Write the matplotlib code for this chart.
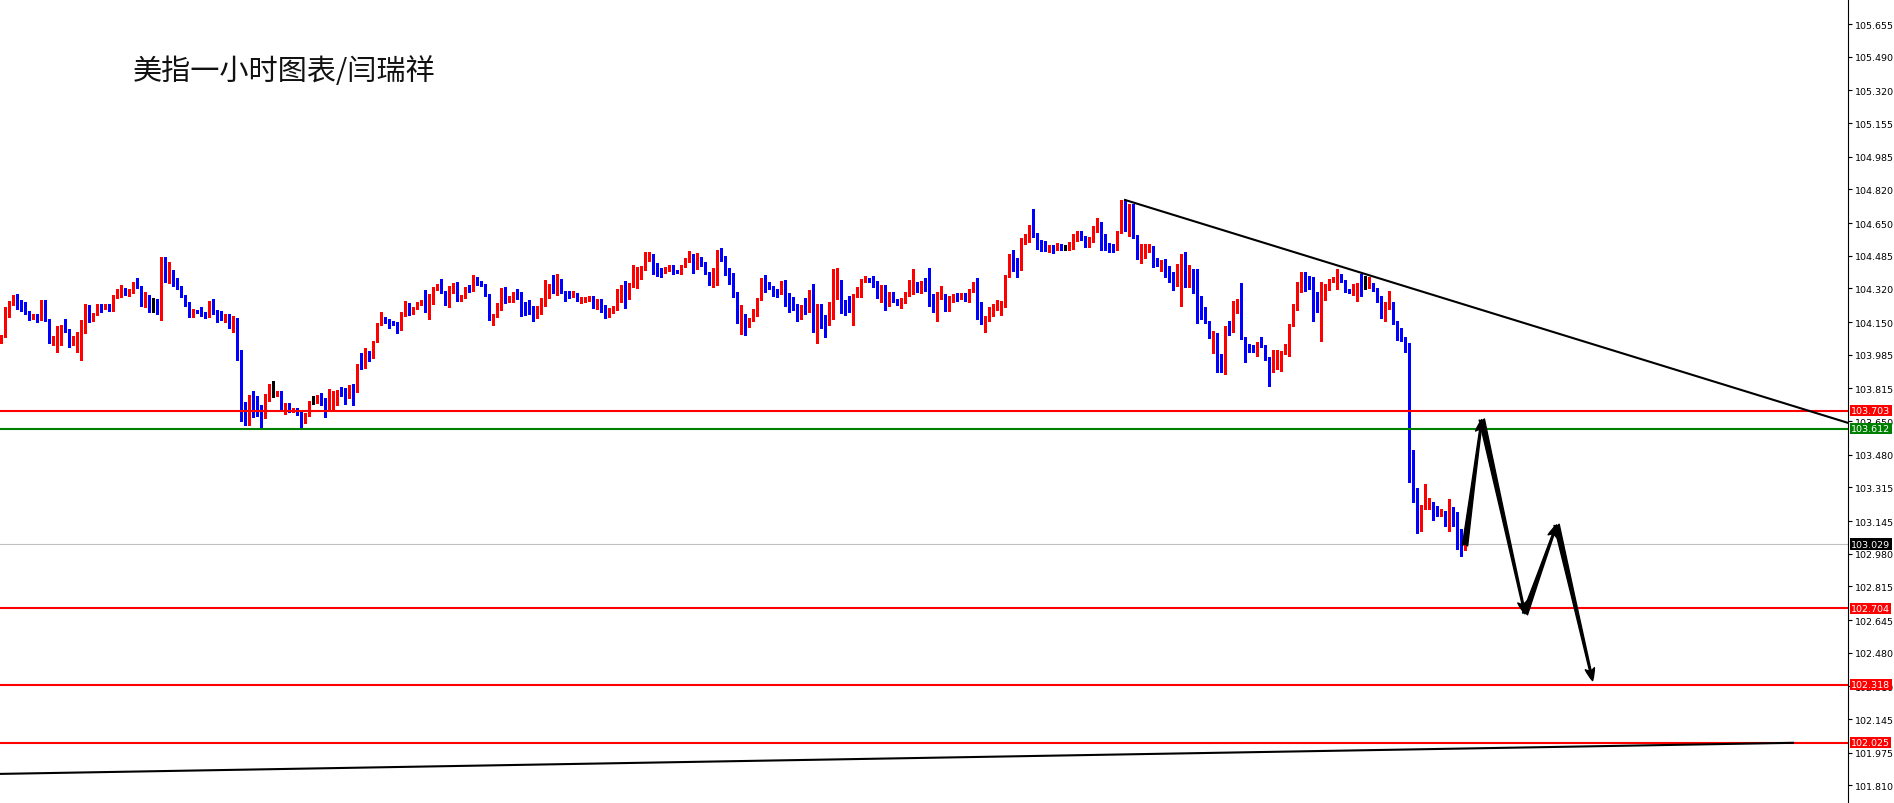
import numpy as np
import matplotlib
matplotlib.use("Agg")
import matplotlib.pyplot as plt

# USD index, 1-hour candles (open/high/low/close)
opens = [
    104.052, 104.077, 104.183, 104.251, 104.267, 104.237, 104.217, 104.203, 104.170, 104.183,
    104.170, 104.227, 104.163, 104.045, 104.052, 104.077, 104.129, 104.111, 104.042, 104.040,
    104.077, 104.097, 104.217, 104.158, 104.192, 104.237, 104.222, 104.234, 104.208, 104.279,
    104.284, 104.318, 104.296, 104.301, 104.338, 104.330, 104.246, 104.251, 104.251, 104.247,
    104.203, 104.419, 104.365, 104.409, 104.355, 104.325, 104.288, 104.246, 104.192, 104.210,
    104.212, 104.188, 104.183, 104.237, 104.203, 104.183, 104.158, 104.183, 104.133, 104.166,
    104.006, 103.678, 103.653, 103.779, 103.734, 103.703, 103.666, 103.779, 103.784, 103.784,
    103.796, 103.717, 103.729, 103.700, 103.710, 103.703, 103.645, 103.678, 103.746, 103.751,
    103.779, 103.762, 103.703, 103.754, 103.766, 103.804, 103.796, 103.767, 103.830, 103.813,
    103.936, 103.922, 103.985, 103.973, 104.052, 104.141, 104.166, 104.158, 104.153, 104.146,
    104.112, 104.183, 104.242, 104.197, 104.222, 104.242, 104.262, 104.242, 104.242, 104.315,
    104.335, 104.304, 104.230, 104.301, 104.335, 104.259, 104.276, 104.318, 104.315, 104.360,
    104.360, 104.339, 104.292, 104.163, 104.186, 104.220, 104.314, 104.262, 104.264, 104.297,
    104.287, 104.247, 104.237, 104.228, 104.186, 104.208, 104.253, 104.312, 104.326, 104.301,
    104.363, 104.304, 104.287, 104.279, 104.292, 104.259, 104.259, 104.267, 104.272, 104.247,
    104.259, 104.230, 104.183, 104.200, 104.216, 104.280, 104.292, 104.267, 104.339, 104.385,
    104.413, 104.418, 104.461, 104.494, 104.427, 104.418, 104.405, 104.413, 104.435, 104.413,
    104.397, 104.432, 104.456, 104.489, 104.422, 104.472, 104.447, 104.397, 104.348, 104.405,
    104.494, 104.472, 104.405, 104.373, 104.292, 104.163, 104.174, 104.149, 104.161, 104.183,
    104.262, 104.363, 104.351, 104.314, 104.309, 104.297, 104.355, 104.280, 104.267, 104.238,
    104.166, 104.228, 104.205, 104.309, 104.132, 104.233, 104.152, 104.144, 104.242, 104.270,
    104.338, 104.245, 104.237, 104.220, 104.280, 104.323, 104.360, 104.373, 104.365, 104.355,
    104.297, 104.312, 104.237, 104.297, 104.257, 104.245, 104.250, 104.284, 104.317, 104.343,
    104.317, 104.338, 104.317, 104.287, 104.208, 104.272, 104.287, 104.216, 104.253, 104.280,
    104.272, 104.292, 104.279, 104.309, 104.348, 104.203, 104.174, 104.179, 104.200, 104.220,
    104.225, 104.225, 104.381, 104.489, 104.422, 104.415, 104.567, 104.573, 104.624, 104.590,
    104.560, 104.540, 104.511, 104.536, 104.519, 104.543, 104.528, 104.523, 104.541, 104.570,
    104.583, 104.578, 104.540, 104.557, 104.612, 104.646, 104.562, 104.536, 104.533, 104.519,
    104.604, 104.764, 104.629, 104.705, 104.587, 104.499, 104.511, 104.514, 104.531, 104.452,
    104.440, 104.461, 104.427, 104.373, 104.360, 104.368, 104.464, 104.329, 104.376, 104.306,
    104.237, 104.220, 104.152, 104.090, 104.095, 103.984, 103.930, 104.127, 104.107, 104.203,
    104.191, 104.070, 104.031, 104.031, 104.001, 104.048, 104.031, 103.967, 103.939, 103.994,
    103.947, 103.994, 104.001, 104.132, 104.216, 104.309, 104.398, 104.338, 104.334, 104.297,
    104.205, 104.270, 104.331, 104.355, 104.321, 104.390, 104.360, 104.314, 104.309, 104.331,
    104.338, 104.334, 104.326, 104.343, 104.317, 104.259, 104.174, 104.221, 104.247, 104.149,
    104.090, 104.068, 104.031, 103.422, 103.248, 103.127, 103.218, 103.223, 103.237, 103.183,
    103.176, 103.195, 103.119, 103.215, 103.126, 103.075, 103.009,
]
highs = [
    104.086, 104.225, 104.259, 104.289, 104.293, 104.262, 104.254, 104.208, 104.192, 104.192,
    104.262, 104.262, 104.166, 104.079, 104.129, 104.136, 104.166, 104.116, 104.079, 104.099,
    104.163, 104.242, 104.237, 104.195, 104.239, 104.242, 104.242, 104.239, 104.288, 104.315,
    104.335, 104.321, 104.318, 104.355, 104.372, 104.331, 104.304, 104.288, 104.271, 104.267,
    104.478, 104.478, 104.456, 104.411, 104.372, 104.330, 104.289, 104.251, 104.217, 104.213,
    104.224, 104.200, 104.259, 104.267, 104.212, 104.208, 104.192, 104.192, 104.183, 104.170,
    104.010, 103.746, 103.784, 103.804, 103.779, 103.729, 103.788, 103.838, 103.850, 103.804,
    103.804, 103.742, 103.742, 103.715, 103.715, 103.707, 103.690, 103.749, 103.779, 103.784,
    103.791, 103.766, 103.813, 103.804, 103.809, 103.821, 103.816, 103.833, 103.838, 103.939,
    103.995, 104.020, 104.006, 104.057, 104.146, 104.203, 104.175, 104.166, 104.158, 104.153,
    104.203, 104.256, 104.247, 104.225, 104.254, 104.264, 104.313, 104.293, 104.326, 104.343,
    104.368, 104.308, 104.331, 104.348, 104.352, 104.288, 104.326, 104.335, 104.389, 104.377,
    104.360, 104.343, 104.292, 104.191, 104.247, 104.323, 104.329, 104.280, 104.301, 104.317,
    104.301, 104.253, 104.262, 104.233, 104.230, 104.270, 104.365, 104.343, 104.388, 104.393,
    104.368, 104.309, 104.306, 104.306, 104.297, 104.275, 104.275, 104.284, 104.284, 104.267,
    104.267, 104.237, 104.220, 104.230, 104.317, 104.339, 104.360, 104.348, 104.439, 104.427,
    104.435, 104.503, 104.503, 104.494, 104.449, 104.424, 104.427, 104.440, 104.439, 104.413,
    104.439, 104.472, 104.508, 104.494, 104.499, 104.477, 104.452, 104.402, 104.424, 104.516,
    104.523, 104.486, 104.422, 104.398, 104.301, 104.237, 104.191, 104.169, 104.216, 104.270,
    104.371, 104.388, 104.355, 104.334, 104.317, 104.360, 104.365, 104.297, 104.275, 104.242,
    104.237, 104.272, 104.312, 104.343, 104.242, 104.242, 104.186, 104.250, 104.418, 104.422,
    104.363, 104.262, 104.284, 104.292, 104.329, 104.368, 104.385, 104.373, 104.381, 104.360,
    104.338, 104.339, 104.304, 104.301, 104.267, 104.270, 104.304, 104.363, 104.418, 104.355,
    104.356, 104.373, 104.422, 104.292, 104.301, 104.331, 104.292, 104.284, 104.292, 104.297,
    104.297, 104.297, 104.317, 104.351, 104.373, 104.250, 104.183, 104.225, 104.242, 104.264,
    104.259, 104.388, 104.494, 104.516, 104.472, 104.573, 104.595, 104.641, 104.721, 104.599,
    104.567, 104.562, 104.540, 104.540, 104.550, 104.545, 104.540, 104.553, 104.595, 104.612,
    104.612, 104.587, 104.578, 104.637, 104.674, 104.658, 104.595, 104.550, 104.545, 104.612,
    104.769, 104.769, 104.747, 104.747, 104.590, 104.545, 104.545, 104.545, 104.536, 104.472,
    104.466, 104.469, 104.432, 104.402, 104.444, 104.494, 104.506, 104.439, 104.418, 104.418,
    104.284, 104.225, 104.157, 104.107, 104.095, 103.989, 104.132, 104.157, 104.259, 104.267,
    104.348, 104.073, 104.040, 104.035, 104.051, 104.073, 104.035, 103.972, 104.011, 104.009,
    104.006, 104.040, 104.141, 104.242, 104.351, 104.402, 104.402, 104.385, 104.376, 104.301,
    104.351, 104.343, 104.368, 104.376, 104.418, 104.393, 104.363, 104.317, 104.343, 104.348,
    104.393, 104.385, 104.376, 104.348, 104.321, 104.280, 104.250, 104.309, 104.253, 104.157,
    104.119, 104.073, 104.045, 103.506, 103.311, 103.228, 103.333, 103.260, 103.243, 103.223,
    103.206, 103.198, 103.257, 103.215, 103.190, 103.105, 103.092,
]
lows = [
    104.043, 104.074, 104.178, 104.234, 104.217, 104.208, 104.192, 104.163, 104.166, 104.150,
    104.163, 104.158, 104.045, 104.032, 104.001, 104.035, 104.099, 104.023, 104.032, 103.998,
    103.961, 104.096, 104.153, 104.155, 104.188, 104.200, 104.217, 104.208, 104.207, 104.272,
    104.276, 104.288, 104.284, 104.296, 104.321, 104.229, 104.225, 104.203, 104.200, 104.192,
    104.163, 104.352, 104.348, 104.331, 104.315, 104.276, 104.230, 104.178, 104.178, 104.197,
    104.180, 104.172, 104.175, 104.192, 104.153, 104.161, 104.153, 104.119, 104.102, 103.961,
    103.650, 103.631, 103.628, 103.673, 103.678, 103.616, 103.666, 103.754, 103.771, 103.779,
    103.707, 103.687, 103.695, 103.695, 103.683, 103.616, 103.641, 103.675, 103.737, 103.742,
    103.729, 103.673, 103.700, 103.707, 103.729, 103.776, 103.737, 103.766, 103.732, 103.796,
    103.914, 103.917, 103.956, 103.970, 104.049, 104.133, 104.146, 104.121, 104.133, 104.096,
    104.109, 104.180, 104.188, 104.192, 104.217, 104.237, 104.203, 104.166, 104.239, 104.311,
    104.296, 104.234, 104.225, 104.296, 104.259, 104.256, 104.272, 104.301, 104.309, 104.338,
    104.334, 104.280, 104.163, 104.136, 104.178, 104.213, 104.247, 104.250, 104.250, 104.267,
    104.183, 104.188, 104.191, 104.158, 104.171, 104.191, 104.233, 104.272, 104.297, 104.287,
    104.297, 104.259, 104.272, 104.275, 104.255, 104.247, 104.253, 104.259, 104.220, 104.216,
    104.203, 104.169, 104.174, 104.196, 104.213, 104.253, 104.220, 104.267, 104.326, 104.323,
    104.368, 104.415, 104.457, 104.393, 104.381, 104.380, 104.398, 104.407, 104.393, 104.397,
    104.393, 104.427, 104.452, 104.398, 104.418, 104.435, 104.393, 104.339, 104.329, 104.338,
    104.457, 104.388, 104.343, 104.275, 104.146, 104.090, 104.085, 104.127, 104.156, 104.179,
    104.262, 104.304, 104.317, 104.284, 104.279, 104.292, 104.233, 104.203, 104.213, 104.158,
    104.166, 104.191, 104.203, 104.102, 104.045, 104.119, 104.073, 104.136, 104.166, 104.267,
    104.196, 104.188, 104.200, 104.136, 104.277, 104.279, 104.351, 104.351, 104.326, 104.272,
    104.250, 104.213, 104.233, 104.250, 104.237, 104.222, 104.245, 104.280, 104.292, 104.304,
    104.297, 104.309, 104.230, 104.200, 104.158, 104.267, 104.208, 104.208, 104.250, 104.259,
    104.267, 104.259, 104.253, 104.304, 104.166, 104.141, 104.102, 104.158, 104.183, 104.211,
    104.186, 104.225, 104.376, 104.410, 104.380, 104.413, 104.545, 104.553, 104.578, 104.519,
    104.511, 104.511, 104.506, 104.499, 104.516, 104.516, 104.516, 104.516, 104.519, 104.562,
    104.565, 104.528, 104.528, 104.553, 104.604, 104.514, 104.514, 104.506, 104.503, 104.514,
    104.600, 104.612, 104.587, 104.573, 104.469, 104.449, 104.472, 104.503, 104.427, 104.432,
    104.410, 104.380, 104.354, 104.314, 104.334, 104.233, 104.326, 104.326, 104.297, 104.146,
    104.166, 104.146, 104.068, 103.994, 103.900, 103.900, 103.888, 104.085, 104.102, 104.195,
    104.065, 103.950, 104.001, 103.998, 103.977, 104.023, 103.961, 103.829, 103.900, 103.913,
    103.905, 103.989, 103.981, 104.129, 104.211, 104.304, 104.306, 104.317, 104.158, 104.200,
    104.057, 104.264, 104.312, 104.351, 104.317, 104.351, 104.301, 104.297, 104.287, 104.259,
    104.284, 104.317, 104.321, 104.309, 104.250, 104.169, 104.158, 104.216, 104.141, 104.062,
    104.057, 103.998, 103.341, 103.240, 103.085, 103.094, 103.206, 103.206, 103.152, 103.169,
    103.169, 103.119, 103.097, 103.119, 103.004, 102.971, 103.001,
]
closes = [
    104.077, 104.192, 104.254, 104.267, 104.234, 104.212, 104.197, 104.170, 104.187, 104.175,
    104.227, 104.161, 104.045, 104.055, 104.079, 104.129, 104.106, 104.040, 104.045, 104.079,
    104.099, 104.217, 104.158, 104.192, 104.237, 104.222, 104.237, 104.210, 104.283, 104.288,
    104.318, 104.293, 104.315, 104.345, 104.325, 104.242, 104.251, 104.242, 104.251, 104.200,
    104.419, 104.365, 104.406, 104.352, 104.321, 104.284, 104.237, 104.192, 104.212, 104.200,
    104.183, 104.185, 104.237, 104.197, 104.175, 104.163, 104.180, 104.129, 104.166, 104.001,
    103.653, 103.658, 103.779, 103.729, 103.695, 103.670, 103.784, 103.788, 103.784, 103.799,
    103.717, 103.729, 103.712, 103.712, 103.695, 103.641, 103.683, 103.746, 103.746, 103.779,
    103.754, 103.703, 103.757, 103.774, 103.804, 103.779, 103.767, 103.830, 103.808, 103.934,
    103.922, 103.985, 103.976, 104.054, 104.141, 104.166, 104.161, 104.150, 104.141, 104.112,
    104.183, 104.242, 104.192, 104.222, 104.247, 104.259, 104.242, 104.247, 104.315, 104.335,
    104.301, 104.237, 104.301, 104.331, 104.262, 104.281, 104.321, 104.311, 104.360, 104.355,
    104.343, 104.292, 104.163, 104.191, 104.228, 104.314, 104.264, 104.272, 104.297, 104.280,
    104.242, 104.230, 104.220, 104.186, 104.211, 104.259, 104.317, 104.329, 104.304, 104.363,
    104.301, 104.284, 104.275, 104.292, 104.259, 104.264, 104.272, 104.272, 104.247, 104.259,
    104.230, 104.183, 104.211, 104.222, 104.292, 104.297, 104.267, 104.343, 104.388, 104.413,
    104.424, 104.464, 104.494, 104.424, 104.413, 104.405, 104.418, 104.435, 104.410, 104.397,
    104.435, 104.461, 104.482, 104.422, 104.469, 104.440, 104.397, 104.343, 104.410, 104.494,
    104.469, 104.398, 104.368, 104.287, 104.163, 104.174, 104.152, 104.161, 104.191, 104.267,
    104.363, 104.348, 104.323, 104.304, 104.297, 104.348, 104.279, 104.262, 104.233, 104.171,
    104.228, 104.200, 104.304, 104.132, 104.228, 104.144, 104.141, 104.242, 104.287, 104.338,
    104.242, 104.230, 104.220, 104.287, 104.326, 104.363, 104.371, 104.360, 104.351, 104.297,
    104.309, 104.237, 104.297, 104.253, 104.250, 104.253, 104.280, 104.321, 104.343, 104.317,
    104.338, 104.312, 104.284, 104.208, 104.275, 104.287, 104.213, 104.259, 104.287, 104.267,
    104.297, 104.279, 104.312, 104.348, 104.203, 104.166, 104.183, 104.203, 104.230, 104.230,
    104.233, 104.385, 104.489, 104.418, 104.415, 104.570, 104.575, 104.624, 104.587, 104.557,
    104.536, 104.514, 104.531, 104.514, 104.543, 104.526, 104.528, 104.545, 104.573, 104.583,
    104.573, 104.540, 104.558, 104.617, 104.634, 104.558, 104.536, 104.514, 104.516, 104.604,
    104.764, 104.620, 104.696, 104.587, 104.494, 104.523, 104.528, 104.531, 104.430, 104.435,
    104.452, 104.422, 104.368, 104.360, 104.373, 104.464, 104.331, 104.376, 104.301, 104.225,
    104.216, 104.149, 104.085, 104.099, 103.981, 103.930, 104.127, 104.107, 104.208, 104.208,
    104.068, 104.026, 104.023, 104.001, 104.048, 104.026, 103.964, 103.939, 104.006, 104.006,
    104.003, 104.006, 104.137, 104.225, 104.312, 104.398, 104.309, 104.322, 104.287, 104.203,
    104.326, 104.338, 104.360, 104.371, 104.393, 104.355, 104.304, 104.301, 104.338, 104.338,
    104.326, 104.334, 104.343, 104.314, 104.253, 104.174, 104.225, 104.245, 104.146, 104.087,
    104.068, 104.028, 103.417, 103.248, 103.127, 103.223, 103.232, 103.232, 103.178, 103.180,
    103.198, 103.122, 103.210, 103.126, 103.075, 103.008, 103.029,
]

# horizontal levels drawn on the chart
level_prices = [103.703, 103.612, 103.029, 102.704, 102.318, 102.025]
level_colors = ["#ff0000", "#008000", "#c0c0c0", "#ff0000", "#ff0000", "#ff0000"]
label_colors = ["#ff0000", "#008000", "#000000", "#ff0000", "#ff0000", "#ff0000"]

# price scale ticks on the right
tick_values = [105.655, 105.490, 105.320, 105.155, 104.985, 104.820, 104.650, 104.485,
               104.320, 104.150, 103.985, 103.815, 103.650, 103.480, 103.315, 103.145,
               102.980, 102.815, 102.645, 102.480, 102.310, 102.145, 101.975, 101.810]

# trend lines (bar index, price)
upper_trend_x = [281, 461.75]
upper_trend_y = [104.767, 103.641]
lower_trend_x = [-0.25, 448]
lower_trend_y = [101.868, 102.025]

# projected zigzag path (bar index, price)
path_x = [366, 370.2, 381, 388.9, 397.9]
path_y = [103.021, 103.658, 102.676, 103.126, 102.339]

title = "美指一小时图表/闫瑞祥"

# ---- figure ----
W, H = 1894, 804
fig = plt.figure(figsize=(W / 100, H / 100), dpi=100)
ax = fig.add_axes([0, 0, 1848 / W, 1])
ax.set_facecolor("white")

o = np.array(opens)
h = np.array(highs)
l = np.array(lows)
c = np.array(closes)
x = np.arange(len(c))

colors = np.where(c > o, "#ff0000", np.where(c < o, "#0000ff", "#000000"))
ax.vlines(x, l, h, colors=colors, linewidth=0.8, antialiased=False, zorder=2)
body = c - o
body = np.where(np.abs(body) < 0.004, np.where(body < 0, -0.004, 0.004), body)
ax.bar(x, body, bottom=o, width=0.72, color=colors, linewidth=0,
       antialiased=False, zorder=2)

# horizontal levels
for price, col in zip(level_prices, level_colors):
    lw = 0.8 if col == "#c0c0c0" else 1.5
    z = 1 if col == "#c0c0c0" else 4
    ax.axhline(price, color=col, linewidth=lw, zorder=z)

# trend lines
ax.plot(upper_trend_x, upper_trend_y, color="black", linewidth=1.5, zorder=5)
ax.plot(lower_trend_x, lower_trend_y, color="black", linewidth=1.5, zorder=5)

# zigzag projection arrows
for i in range(len(path_x) - 1):
    ax.annotate("", xy=(path_x[i + 1], path_y[i + 1]), xytext=(path_x[i], path_y[i]),
                arrowprops=dict(arrowstyle="fancy,head_length=0.55,head_width=0.42,tail_width=0.24",
                                color="black", shrinkA=0, shrinkB=0, mutation_scale=16),
                zorder=6)

ax.set_xlim(-0.25, 461.75)
ax.set_ylim(101.721, 105.782)

# axes styling: only the right price scale
for side in ["top", "left", "bottom"]:
    ax.spines[side].set_visible(False)
ax.spines["right"].set_color("black")
ax.spines["right"].set_linewidth(0.8)
ax.set_xticks([])
ax.yaxis.tick_right()
ax.set_yticks(tick_values)
ax.set_yticklabels([f"{v:.3f}" for v in tick_values])
ax.tick_params(axis="y", direction="out", length=3, width=0.8, pad=2,
               labelsize=6.8, colors="black")

# coloured price boxes on the scale
for price, col in zip(level_prices, label_colors):
    ax.text(1.0018, price, f"{price:.3f}", transform=ax.get_yaxis_transform(),
            ha="left", va="center", fontsize=6.8, color="white", zorder=10,
            clip_on=False,
            bbox=dict(boxstyle="square,pad=0.12", facecolor=col, edgecolor="none"))

fig.text(133 / W, 1 - 72 / H, title, fontsize=21, ha="left", va="center",
         color="#111111", family=["Noto Sans CJK SC", "DejaVu Sans"])

fig.savefig("out.png", dpi=100, facecolor="white")
